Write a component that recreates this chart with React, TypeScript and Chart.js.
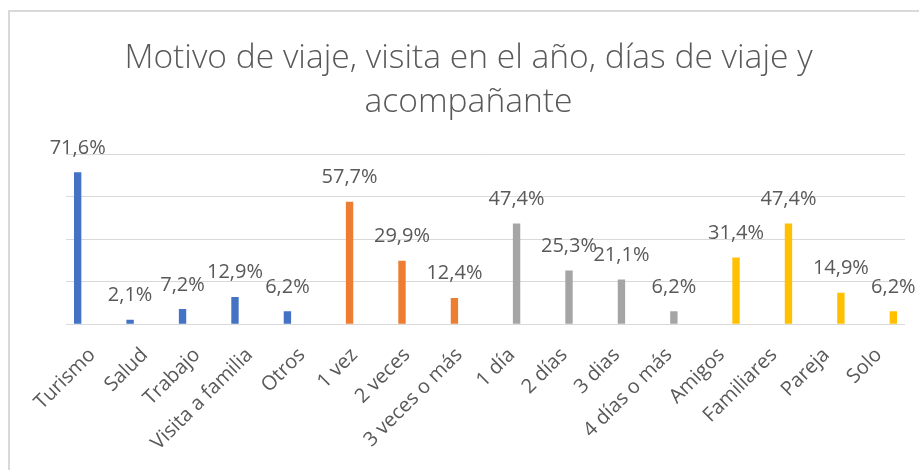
import React, { useEffect, useRef } from "react";
import { Chart, registerables } from "chart.js";

Chart.register(...registerables);

const categories = [
  "Turismo",
  "Salud",
  "Trabajo",
  "Visita a familia",
  "Otros",
  "1 vez",
  "2 veces",
  "3 veces o más",
  "1 día",
  "2 días",
  "3 dias",
  "4 días o más",
  "Amigos",
  "Familiares",
  "Pareja",
  "Solo",
];

const motivoValues = [71.6, 2.1, 7.2, 12.9, 6.2];
const visitaValues = [57.7, 29.9, 12.4];
const diasValues = [47.4, 25.3, 21.1, 6.2];
const acompananteValues = [31.4, 47.4, 14.9, 6.2];
const yTicks = [0, 20, 40, 60, 80];

const titleLines = ["Motivo de viaje, visita en el año, días de viaje y", "acompañante"];

const FONT = "'Open Sans', 'Noto Sans', sans-serif";
const TEXT_COLOR = "#595959";

function placeSeries(values: number[], start: number): (number | null)[] {
  const out: (number | null)[] = categories.map(() => null);
  values.forEach((v, i) => {
    out[start + i] = v;
  });
  return out;
}

const fmt = (v: number) => v.toFixed(1).replace(".", ",") + "%";

const labelPlugin = {
  id: "barValueLabels",
  afterDatasetsDraw(chart: any) {
    const ctx = chart.ctx;
    ctx.save();
    ctx.font = `20px ${FONT}`;
    ctx.fillStyle = TEXT_COLOR;
    ctx.textAlign = "center";
    ctx.textBaseline = "alphabetic";
    chart.data.datasets.forEach((ds: any, di: number) => {
      const meta = chart.getDatasetMeta(di);
      meta.data.forEach((el: any, i: number) => {
        const v = ds.data[i];
        if (v === null || v === undefined) return;
        ctx.fillText(fmt(v), el.x, el.y - 18.5);
      });
    });
    ctx.restore();
  },
};

export default function App() {
  const ref = useRef<HTMLCanvasElement | null>(null);

  useEffect(() => {
    if (!ref.current) return;
    const chart = new Chart(ref.current, {
      type: "bar",
      data: {
        labels: categories,
        datasets: [
          {
            label: "Motivo de viaje",
            data: placeSeries(motivoValues, 0),
            backgroundColor: "#4472C4",
          },
          {
            label: "Visitas en el año",
            data: placeSeries(visitaValues, 5),
            backgroundColor: "#ED7D31",
          },
          {
            label: "Días de viaje",
            data: placeSeries(diasValues, 8),
            backgroundColor: "#A5A5A5",
          },
          {
            label: "Acompañante",
            data: placeSeries(acompananteValues, 12),
            backgroundColor: "#FFC000",
          },
        ],
      },
      options: {
        responsive: false,
        animation: false,
        layout: { padding: { left: 22, right: 14, top: 0, bottom: 0 } },
        datasets: {
          bar: { categoryPercentage: 0.74, barPercentage: 0.76 },
        },
        plugins: {
          legend: { display: false },
          tooltip: { enabled: false },
          title: {
            display: true,
            text: titleLines,
            color: TEXT_COLOR,
            font: { family: FONT, size: 33.6, weight: "300" as any, lineHeight: 1.3 },
            padding: { top: 25, bottom: 30 },
          },
        },
        scales: {
          x: {
            grid: { display: false },
            border: { display: false },
            ticks: {
              autoSkip: false,
              minRotation: 45,
              maxRotation: 45,
              color: TEXT_COLOR,
              font: { family: FONT, size: 20 },
              padding: 11,
            },
            afterFit: (s: any) => {
              s.height = 145.7;
            },
          },
          y: {
            min: yTicks[0],
            max: yTicks[yTicks.length - 1],
            afterBuildTicks: (s: any) => {
              s.ticks = yTicks.map((v) => ({ value: v }));
            },
            ticks: { display: false },
            grid: { color: "#D9D9D9", lineWidth: 1, drawTicks: false },
            border: { display: false },
            afterFit: (s: any) => {
              s.width = 34;
            },
          },
        },
      },
      plugins: [labelPlugin],
    });
    return () => chart.destroy();
  }, []);

  return (
    <div
      style={{
        position: "absolute",
        left: 8,
        top: 10,
        width: 911,
        height: 460,
        boxSizing: "border-box",
        borderTop: "2px solid #D9D9D9",
        borderLeft: "2px solid #D9D9D9",
        background: "#fff",
        overflow: "hidden",
      }}
    >
      <canvas ref={ref} width={909} height={458} style={{ display: "block" }} />
    </div>
  );
}
